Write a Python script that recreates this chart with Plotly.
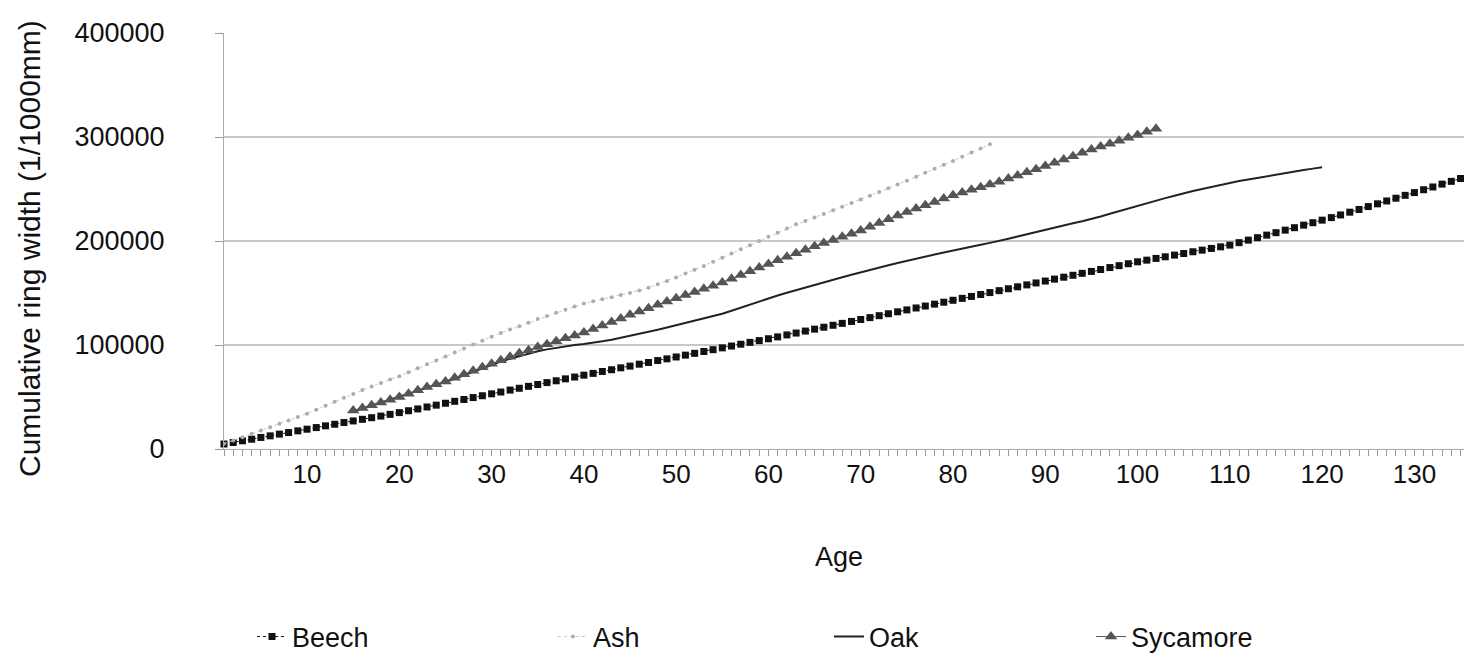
import plotly.graph_objects as go

# ---- data ----
beech_age = list(range(1, 137))
beech = [4800, 6250, 7900, 9400, 11100, 12650, 14300, 15800, 17450, 19050,
         20600, 22250, 23800, 25450, 27000, 28550, 30100, 31650, 33300, 35000,
         36800, 38550, 40400, 42150, 44000, 45850, 47600, 49450, 51200, 53050,
         54800, 56650, 58400, 60250, 62000, 63850, 65600, 67450, 69200, 71000,
         72700, 74550, 76200, 78050, 79700, 81550, 83200, 85050, 86700, 88500,
         90250, 92000, 93750, 95500, 97250, 99000, 100750, 102500, 104250, 106000,
         107800, 109700, 111500, 113400, 115250, 117100, 118950, 120800, 122650, 124500,
         126350, 128200, 130050, 131900, 133750, 135600, 137450, 139300, 141150, 143000,
         144850, 146700, 148550, 150400, 152250, 154100, 155950, 157800, 159650, 161500,
         163350, 165200, 167050, 168900, 170750, 172600, 174450, 176300, 178150, 180000,
         181600, 183250, 184800, 186450, 188000, 189650, 191200, 192850, 194400, 196050,
         198400, 200850, 203200, 205650, 208000, 210450, 212800, 215250, 217600, 220050,
         222500, 225050, 227700, 230350, 233100, 235750, 238500, 241150, 243900, 246550,
         249300, 251950, 254700, 257350, 260100, 262750]

ash_age = list(range(1, 85))
ash = [5000, 8200, 11400, 14600, 17800, 21000, 24200, 27500, 30800, 34000,
       37800, 41600, 45400, 49200, 53000, 56800, 60200, 63500, 66800, 70000,
       73800, 77600, 81400, 85200, 89000, 92800, 96600, 100400, 104200, 108000,
       111600, 114800, 118000, 121500, 125000, 128000, 131000, 134000, 137000, 140000,
       142000, 144000, 146000, 148000, 150000, 152500, 155000, 158300, 161600, 165000,
       168700, 172300, 176000, 180000, 184000, 188000, 192000, 196000, 200000, 204000,
       208000, 212000, 216000, 219300, 222600, 226000, 229500, 233000, 236500, 240000,
       243600, 247200, 250800, 254400, 258000, 261800, 265600, 269400, 273200, 277000,
       281000, 285000, 289000, 293000]

oak_age = list(range(15, 121))
oak = [36000, 38800, 41600, 44400, 47200, 50000,
       52800, 55600, 58400, 61200, 64000, 67400, 70800, 74200, 77600, 81000,
       84000, 86800, 89400, 91800, 94000, 95800, 97400, 98800, 100000, 101000,
       102000, 103500, 105000, 106800, 108700, 110600, 112600, 114700, 116800, 119000,
       121100, 123200, 125300, 127600, 130000, 133000, 136000, 139000, 142000, 145000,
       147600, 150200, 152800, 155400, 158000, 160400, 162800, 165200, 167600, 170000,
       172200, 174400, 176600, 178800, 181000, 183000, 185000, 187000, 189000, 191000,
       192800, 194600, 196400, 198200, 200000, 202200, 204400, 206600, 208800, 211000,
       213000, 215000, 217000, 219000, 221000, 223600, 226200, 228800, 231400, 234000,
       236400, 238800, 241200, 243600, 246000, 248000, 250000, 252000, 254000, 256000,
       257600, 259200, 260800, 262400, 264000, 265400, 266800, 268200, 269600, 271000]

sycamore_age = list(range(15, 103))
sycamore = [37000, 39500, 42000, 44600, 47300, 50000,
            53200, 56600, 59500, 62200, 65000, 68400, 71800, 75200, 78600, 82000,
            85400, 88800, 92000, 95000, 98000, 100800, 103600, 106400, 109200, 112000,
            115400, 118800, 122200, 125600, 129000, 132200, 135400, 138600, 141800, 145000,
            148000, 151000, 154000, 157000, 160000, 163600, 167200, 170800, 174400, 178000,
            181400, 184800, 188200, 191600, 195000, 198000, 201000, 204000, 207000, 210000,
            213600, 217200, 220800, 224400, 228000, 231200, 234400, 237600, 240800, 244000,
            246600, 249200, 251800, 254400, 257000, 260000, 263000, 266000, 269000, 272000,
            275200, 278400, 281600, 284800, 288000, 290800, 293600, 296400, 299200, 302000,
            305000, 308000]

x_tick_vals = [10, 20, 30, 40, 50, 60, 70, 80, 90, 100, 110, 120, 130]
x_tick_text = [str(v) for v in x_tick_vals]
y_tick_vals = [0, 100000, 200000, 300000, 400000]
y_tick_text = ["0", "100000", "200000", "300000", "400000"]
grid_vals = [100000, 200000, 300000]

FONT = "Liberation Sans, Arial, Helvetica, sans-serif"
W, H = 1472, 659
OFF = 8  # page body margin of the browser
# plot area in screen pixels: left 224, right 1467, top 33, bottom 449
ML = 224 - OFF
MR = W - (1467 - OFF)
MT = 33 - OFF
MB = H - (449 - OFF)
PW, PH = W - ML - MR, H - MT - MB


def px_x(p):
    return (p - OFF - ML) / PW


def px_y(p):
    return (H - MB - (p - OFF)) / PH


fig = go.Figure()
fig.add_trace(go.Scatter(
    x=beech_age, y=beech, name="Beech", mode="lines+markers",
    line=dict(color="#111111", width=1, dash="dot"),
    marker=dict(symbol="square", size=7, color="#111111"),
    cliponaxis=False, legend="legend"))
fig.add_trace(go.Scatter(
    x=ash_age, y=ash, name="Ash", mode="lines+markers",
    line=dict(color="#c8c8c8", width=1, dash="dot"),
    marker=dict(symbol="circle", size=4, color="#adadad"),
    legend="legend2"))
fig.add_trace(go.Scatter(
    x=oak_age, y=oak, name="Oak", mode="lines",
    line=dict(color="#222222", width=2),
    legend="legend3"))
fig.add_trace(go.Scatter(
    x=sycamore_age, y=sycamore, name="Sycamore", mode="lines+markers",
    line=dict(color="#555555", width=1),
    marker=dict(symbol="triangle-up", size=11, color="#555555"),
    legend="legend4"))

for v in grid_vals:
    fig.add_shape(type="line", xref="paper", x0=0, x1=1, yref="y", y0=v, y1=v,
                  line=dict(color="#c8c8c8", width=2), layer="below")

leg_y = 1 - 629 / H
leg_common = dict(orientation="h", yanchor="middle", xanchor="left", y=leg_y,
                  xref="container", yref="container",
                  font=dict(family=FONT, size=27, color="#111111"),
                  bgcolor="rgba(0,0,0,0)", borderwidth=0, visible=True)

fig.update_layout(
    width=W, height=H,
    margin=dict(l=ML, r=MR, t=MT, b=MB, autoexpand=False),
    plot_bgcolor="white", paper_bgcolor="white",
    showlegend=True,
    font=dict(family=FONT, size=26, color="#111111"),
    legend=dict(x=(293 - 49) / W, **leg_common),
    legend2=dict(x=(594 - 49) / W, **leg_common),
    legend3=dict(x=(870 - 49) / W, **leg_common),
    legend4=dict(x=(1132 - 49) / W, **leg_common),
    xaxis=dict(range=[1, 135.7], tickmode="array", tickvals=x_tick_vals, ticktext=x_tick_text,
               ticks="outside", ticklen=6, tickcolor="#999999", tickwidth=1,
               showgrid=False, zeroline=False, showline=True, linecolor="#aaaaaa", linewidth=1,
               automargin=False, ticklabelstandoff=-4,
               tickfont=dict(family=FONT, size=26, color="#111111"),
               minor=dict(dtick=1, tick0=0, ticks="outside", ticklen=6, tickcolor="#999999",
                          showgrid=False)),
    yaxis=dict(range=[0, 400000], tickmode="array", tickvals=y_tick_vals, ticktext=y_tick_text,
               ticks="outside", ticklen=8, tickcolor="#999999",
               showgrid=False, zeroline=False, showline=True, linecolor="#aaaaaa", linewidth=1,
               ticklabelstandoff=45, automargin=False,
               tickfont=dict(family=FONT, size=27, color="#111111")),
    annotations=[
        dict(text="Age", xref="paper", yref="paper", x=px_x(839), y=px_y(557),
             showarrow=False, xanchor="center", yanchor="middle",
             font=dict(family=FONT, size=27, color="#111111")),
        dict(text="Cumulative ring width (1/1000mm)", xref="paper", yref="paper",
             x=px_x(30), y=px_y(249), textangle=-90, showarrow=False,
             xanchor="center", yanchor="middle",
             font=dict(family=FONT, size=30, color="#111111")),
    ],
)

fig.write_html("out.html")
